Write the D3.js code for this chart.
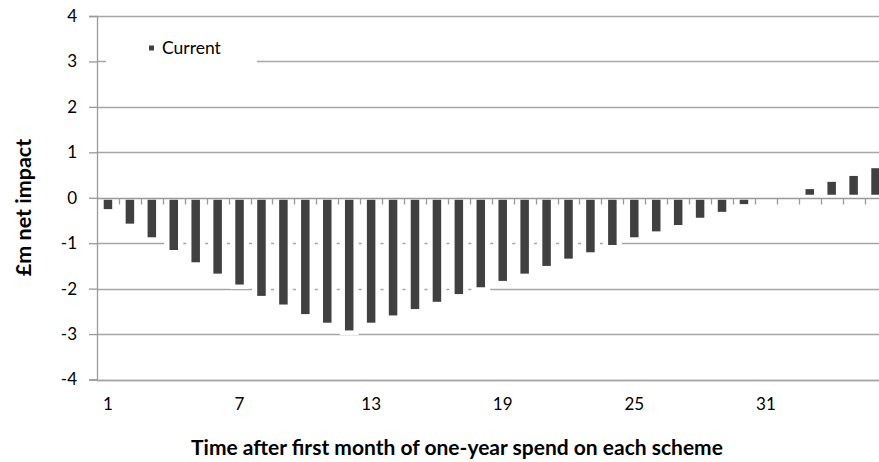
<!DOCTYPE html>
<html>
<head>
<meta charset="utf-8">
<script src="https://cdn.jsdelivr.net/npm/d3@7/dist/d3.min.js"></script>
<style>
  html, body { margin: 0; padding: 0; background: #fff; }
  svg { display: block; }
  text { font-family: Lato, "Open Sans", sans-serif; fill: #000; }
</style>
</head>
<body>
<svg id="chart" width="879" height="462"></svg>
<script>
// Months after the first month of spend
const months = d3.range(1, 37);
// Net impact per month, £m (blank months have no bar)
const netImpact = [
  -0.25, -0.57, -0.87, -1.15, -1.42, -1.67, -1.91, -2.16, -2.35, -2.56,
  -2.75, -2.92, -2.75, -2.59, -2.45, -2.29, -2.12, -1.97, -1.83, -1.67,
  -1.50, -1.34, -1.20, -1.04, -0.87, -0.74, -0.60, -0.44, -0.31, -0.14,
  null, null, 0.19, 0.35, 0.48, 0.65
];
const yTicks = [-4, -3, -2, -1, 0, 1, 2, 3, 4];
const xTickLabels = [1, 7, 13, 19, 25, 31];
const seriesName = "Current";

const svg = d3.select("#chart");
const W = 879;

const plotLeft = 97, plotRight = 886.5, plotTop = 16, plotBottom = 379.5;

const y = d3.scaleLinear().domain([-4, 4]).range([plotBottom, plotTop]);
const x = d3.scaleBand().domain(months).range([plotLeft, plotRight]).padding(0);
const step = x.step();
const barW = 8.5;
const haloW = step - 3;

const gridColor = "#a6a6a6";
const axisColor = "#9a9a9a";
const barColor = "#404040";

// Horizontal gridlines
svg.append("g")
  .selectAll("line")
  .data(yTicks.filter(d => d !== 0))
  .join("line")
  .attr("x1", plotLeft).attr("x2", W)
  .attr("y1", d => Math.round(y(d)) + 0.5)
  .attr("y2", d => Math.round(y(d)) + 0.5)
  .attr("stroke", gridColor)
  .attr("stroke-width", 1.3);

const rows = months.map((m, i) => ({ m, v: netImpact[i] })).filter(d => d.v !== null);

// White surround behind each bar
svg.append("g")
  .selectAll("rect")
  .data(rows)
  .join("rect")
  .attr("x", d => x(d.m) + step / 2 - haloW / 2)
  .attr("width", haloW)
  .attr("y", d => d.v < 0 ? y(0) : y(d.v) - 4.5)
  .attr("height", d => Math.abs(y(d.v) - y(0)) + 4.5)
  .attr("fill", "#fff");

// Bars
svg.append("g")
  .selectAll("rect")
  .data(rows)
  .join("rect")
  .attr("x", d => x(d.m) + step / 2 - barW / 2)
  .attr("width", barW)
  .attr("y", d => d.v < 0 ? y(0) + 2 : y(d.v))
  .attr("height", d => d.v < 0 ? y(d.v) - y(0) - 2 : y(0) - y(d.v) - 3)
  .attr("fill", barColor);

// Value axis
const yAxis = svg.append("g")
  .attr("transform", `translate(${plotLeft},0)`)
  .call(d3.axisLeft(y).tickValues(yTicks).tickSize(8).tickPadding(12).tickFormat(d3.format("d")));
yAxis.select(".domain").attr("stroke", axisColor).attr("stroke-width", 1.3);
yAxis.selectAll(".tick line").attr("stroke", axisColor).attr("stroke-width", 1.3);
yAxis.selectAll(".tick text")
  .attr("font-family", "Lato, sans-serif")
  .attr("font-size", 17)
  .attr("fill", "#000")
  .text(d => d < 0 ? "-" + Math.abs(d) : d);

// Category axis along zero
const zeroY = Math.round(y(0)) + 0.5;
svg.append("line")
  .attr("x1", plotLeft).attr("x2", W)
  .attr("y1", zeroY).attr("y2", zeroY)
  .attr("stroke", axisColor).attr("stroke-width", 1.3);
svg.append("g")
  .selectAll("line")
  .data(months.slice(1))
  .join("line")
  .attr("x1", d => Math.round(x(d)) + 0.5)
  .attr("x2", d => Math.round(x(d)) + 0.5)
  .attr("y1", zeroY).attr("y2", zeroY + 6)
  .attr("stroke", axisColor).attr("stroke-width", 1.3);

// Category labels below the plot
const xAxis = svg.append("g")
  .attr("transform", `translate(0,${plotBottom})`)
  .call(d3.axisBottom(x).tickValues(xTickLabels).tickSize(0).tickPadding(18));
xAxis.select(".domain").remove();
xAxis.selectAll(".tick text")
  .attr("font-family", "Lato, sans-serif")
  .attr("font-size", 17)
  .attr("fill", "#000");
svg.append("line")
  .attr("x1", plotLeft).attr("x2", W)
  .attr("y1", Math.round(plotBottom) + 0.5).attr("y2", Math.round(plotBottom) + 0.5)
  .attr("stroke", gridColor).attr("stroke-width", 1.3);

// Axis titles
svg.append("text")
  .attr("x", 457).attr("y", 455)
  .attr("text-anchor", "middle")
  .attr("font-weight", "bold")
  .attr("font-size", 21)
  .text("Time after first month of one-year spend on each scheme");

svg.append("text")
  .attr("transform", "translate(31,207.5) rotate(-90)")
  .attr("text-anchor", "middle")
  .attr("font-weight", "bold")
  .attr("font-size", 21.5)
  .text("£m net impact");

// Legend
const legend = svg.append("g");
legend.append("rect")
  .attr("x", 106).attr("y", 28).attr("width", 151).attr("height", 38)
  .attr("fill", "#fff");
legend.append("rect")
  .attr("x", 149).attr("y", 45.5).attr("width", 5).attr("height", 5)
  .attr("fill", barColor);
legend.append("text")
  .attr("x", 162).attr("y", 54)
  .attr("font-size", 17.5)
  .text(seriesName);
</script>
</body>
</html>
